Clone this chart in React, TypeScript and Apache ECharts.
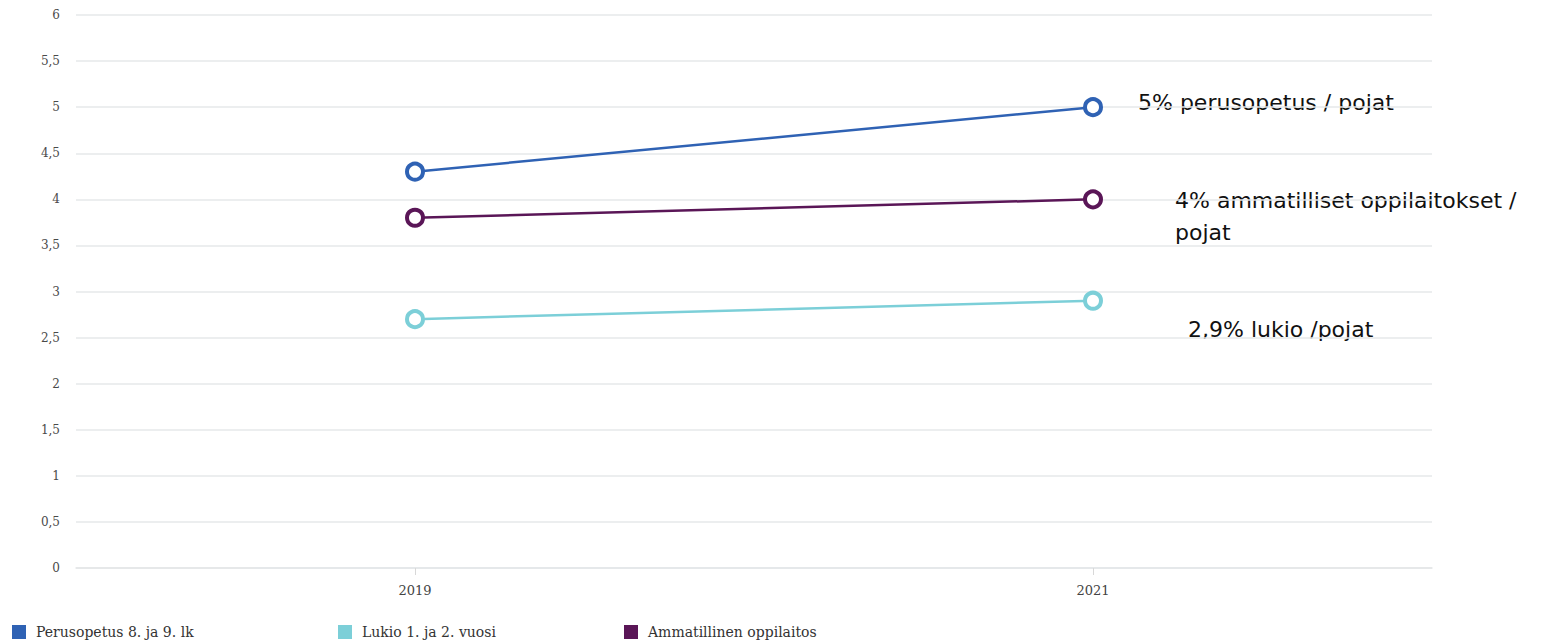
import React, { useEffect, useRef } from "react";
import * as echarts from "echarts";

const categories = ["2019", "2021"];
const perusopetus = [4.3, 5.0];
const lukio = [2.7, 2.9];
const ammatillinen = [3.8, 4.0];
const seriesNames = ["Perusopetus 8. ja 9. lk", "Lukio 1. ja 2. vuosi", "Ammatillinen oppilaitos"];
const colors = ["#2f62b4", "#7ccfd8", "#5a1657"];
const annotationTexts = ["5% perusopetus / pojat", "4% ammatilliset oppilaitokset /\npojat", "2,9% lukio /pojat"];
const annotationPos = [
  [1138, 86],
  [1175, 184],
  [1188, 313],
];
const legendLefts = [12, 338, 624];

export default function App() {
  const ref = useRef<HTMLDivElement>(null);
  useEffect(() => {
    if (!ref.current) return;
    const chart = echarts.init(ref.current, undefined, { renderer: "svg" });
    const values = [perusopetus, lukio, ammatillinen];
    const serif = "'DejaVu Serif', serif";
    chart.setOption({
      animation: false,
      grid: { left: 76, right: 117, top: 15, bottom: 74, containLabel: false },
      legend: seriesNames.map((n, i) => ({
        left: legendLefts[i],
        top: 625,
        padding: 0,
        itemWidth: 14,
        itemHeight: 14,
        itemGap: 10,
        icon: "rect",
        selectedMode: false,
        textStyle: { fontFamily: serif, fontSize: 14, color: "#333", padding: [0, 0, 0, 5] },
        data: [{ name: n, itemStyle: { color: colors[i], borderWidth: 0 } }],
      })),
      xAxis: {
        type: "category",
        data: categories,
        boundaryGap: true,
        axisLine: { show: true, lineStyle: { color: "#e3e6e8", width: 1.5 } },
        axisTick: { show: true, alignWithLabel: true, length: 7, lineStyle: { color: "#d8d8d8" } },
        axisLabel: { fontFamily: serif, fontSize: 13, color: "#444", margin: 16 },
      },
      yAxis: {
        type: "value",
        min: 0,
        max: 6,
        interval: 0.5,
        axisLine: { show: false },
        axisTick: { show: false },
        splitLine: { lineStyle: { color: "#e6e8ea", width: 1.5 } },
        axisLabel: {
          fontFamily: serif,
          fontSize: 12,
          color: "#4a4a4a",
          margin: 16,
          formatter: (v: number) => String(v).replace(".", ","),
        },
      },
      series: values.map((d, i) => ({
        name: seriesNames[i],
        type: "line",
        data: d,
        symbol: "circle",
        symbolSize: 16,
        showAllSymbol: true,
        lineStyle: { color: colors[i], width: 2.5 },
        itemStyle: { color: "#fff", borderColor: colors[i], borderWidth: 4 },
        emphasis: { disabled: true },
      })),
      graphic: annotationTexts.map((t, i) => ({
        type: "text",
        x: annotationPos[i][0],
        y: annotationPos[i][1],
        style: {
          text: t,
          font: "22px 'DejaVu Sans', sans-serif",
          fill: "#111",
          lineHeight: 32,
          verticalAlign: "top",
        },
      })),
    });
    return () => chart.dispose();
  }, []);
  return (
    <div
      ref={ref}
      style={{ position: "fixed", left: 0, top: 0, width: 1549, height: 642, background: "#fff" }}
    />
  );
}
